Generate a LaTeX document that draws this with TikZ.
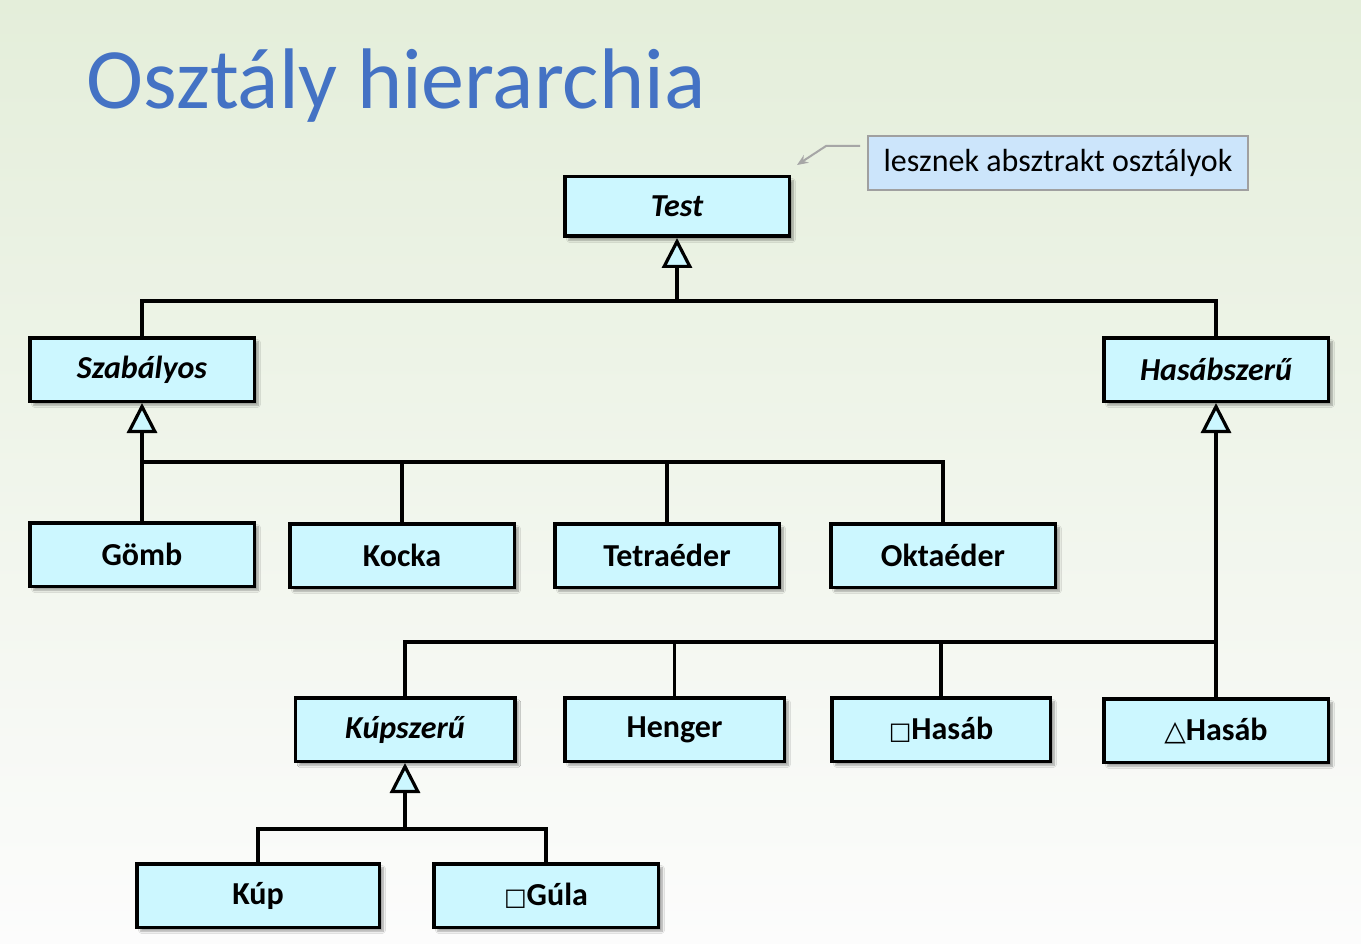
\documentclass[tikz,border=0pt]{standalone}
\usepackage{fontspec}
\setmainfont{Carlito}
\newfontfamily\symfont{DejaVu Sans}
\usetikzlibrary{arrows.meta,shadows.blur}
\definecolor{bgtop}{RGB}{228,238,218}
\definecolor{bgbot}{RGB}{252,252,252}
\definecolor{boxfill}{RGB}{204,247,255}
\definecolor{notefill}{RGB}{204,229,251}
\definecolor{notedraw}{RGB}{160,160,160}
\definecolor{titleblue}{RGB}{68,114,196}
\definecolor{notearrow}{RGB}{166,166,166}
\tikzset{
  cls/.style={draw=black, line width=3.5pt, fill=boxfill, inner sep=0pt,
    minimum width=224.5pt, minimum height=63.5pt,
    font=\fontsize{32}{36}\selectfont\bfseries,
    blur shadow={shadow xshift=4pt, shadow yshift=-4pt, shadow blur steps=6, shadow opacity=35}},
  abstr/.style={cls, font=\fontsize{32}{36}\selectfont\bfseries\itshape},
  conn/.style={draw=black, line width=3.2pt},
  inh/.style={conn, -{Triangle[length=30pt,width=30pt,fill=boxfill,line width=3.2pt]}},
  note/.style={draw=notedraw, line width=2pt, fill=notefill, inner sep=0pt,
    minimum width=380pt, minimum height=54pt, font=\fontsize{32}{36}\selectfont},
}
\newcommand{\sqglyph}{{\symfont\bfseries\fontsize{24}{24}\selectfont □}}
\newcommand{\trglyph}{{\symfont\fontsize{28}{28}\selectfont △}}
\begin{document}
\begin{tikzpicture}[x=1pt,y=-1pt]
\useasboundingbox (0,0) rectangle (1361,944);
\shade[top color=bgtop, bottom color=bgbot] (0,0) rectangle (1361,944);

% title
\node[anchor=base west, inner sep=0pt, text=titleblue, font=\fontsize{86}{92}\selectfont] (title) at (86,109) {Osztály hierarchia};

% classes
\node[abstr, minimum height=59.5pt] (test) at (677,206.5) {\raisebox{-2pt}{Test}};
\node[abstr] (szab) at (142,369.5) {\raisebox{-2pt}{Szabályos}};
\node[abstr] (hszr) at (1216,369.5) {Hasábszerű};
\node[cls] (gomb) at (142,554.5) {Gömb};
\node[cls] (kocka) at (402,555.5) {Kocka};
\node[cls] (tetra) at (667,555.5) {Tetraéder};
\node[cls] (okta) at (943,555.5) {Oktaéder};
\node[abstr, minimum width=219.5pt] (kupsz) at (405,729.5) {Kúpszerű};
\node[cls, minimum width=219.5pt] (henger) at (674.5,729.5) {\raisebox{-2pt}{Henger}};
\node[cls, minimum width=218.5pt] (nhasab) at (941,729.5) {\sqglyph Hasáb};
\node[cls] (thasab) at (1216,730.5) {\trglyph Hasáb};
\node[cls, minimum width=242.5pt] (kup) at (258,895.5) {\raisebox{-1pt}{Kúp}};
\node[cls] (gula) at (546,895.5) {\sqglyph Gúla};

% note
\node[note] (note) at (1058,163) {\raisebox{-3pt}{lesznek absztrakt osztályok}};
\coordinate (nbend) at (826,146);
\coordinate (ntip) at (797,165);
\draw[draw=notearrow, line width=2pt, -{Stealth[length=11pt,width=9pt]}] (note.west |- nbend) ++(-7,0) -- (nbend) -- (ntip);

% Test hierarchy
\coordinate (j0) at (677,301);
\draw[conn] (szab.north) -- (szab.north |- j0) -- (hszr.north |- j0) -- (hszr.north);
\draw[inh] (j0) -- (test.south);

% Szabályos hierarchy
\coordinate (j1) at (142,462);
\draw[conn] (gomb.north) -- (j1) -- (okta.north |- j1) -- (okta.north);
\draw[conn] (kocka.north) -- (kocka.north |- j1);
\draw[conn] (tetra.north) -- (tetra.north |- j1);
\draw[inh] (j1) -- (szab.south);

% Hasábszerű hierarchy
\coordinate (j2) at (1216,642);
\draw[conn] (kupsz.north) -- (kupsz.north |- j2) -- (j2);
\draw[conn] (henger.north) -- (henger.north |- j2);
\draw[conn] (nhasab.north) -- (nhasab.north |- j2);
\draw[inh] (thasab.north) -- (hszr.south);

% Kúpszerű hierarchy
\coordinate (j3) at (405,829);
\draw[conn] (kup.north) -- (kup.north |- j3) -- (gula.north |- j3) -- (gula.north);
\draw[inh] (j3) -- (kupsz.south);
\end{tikzpicture}
\end{document}
